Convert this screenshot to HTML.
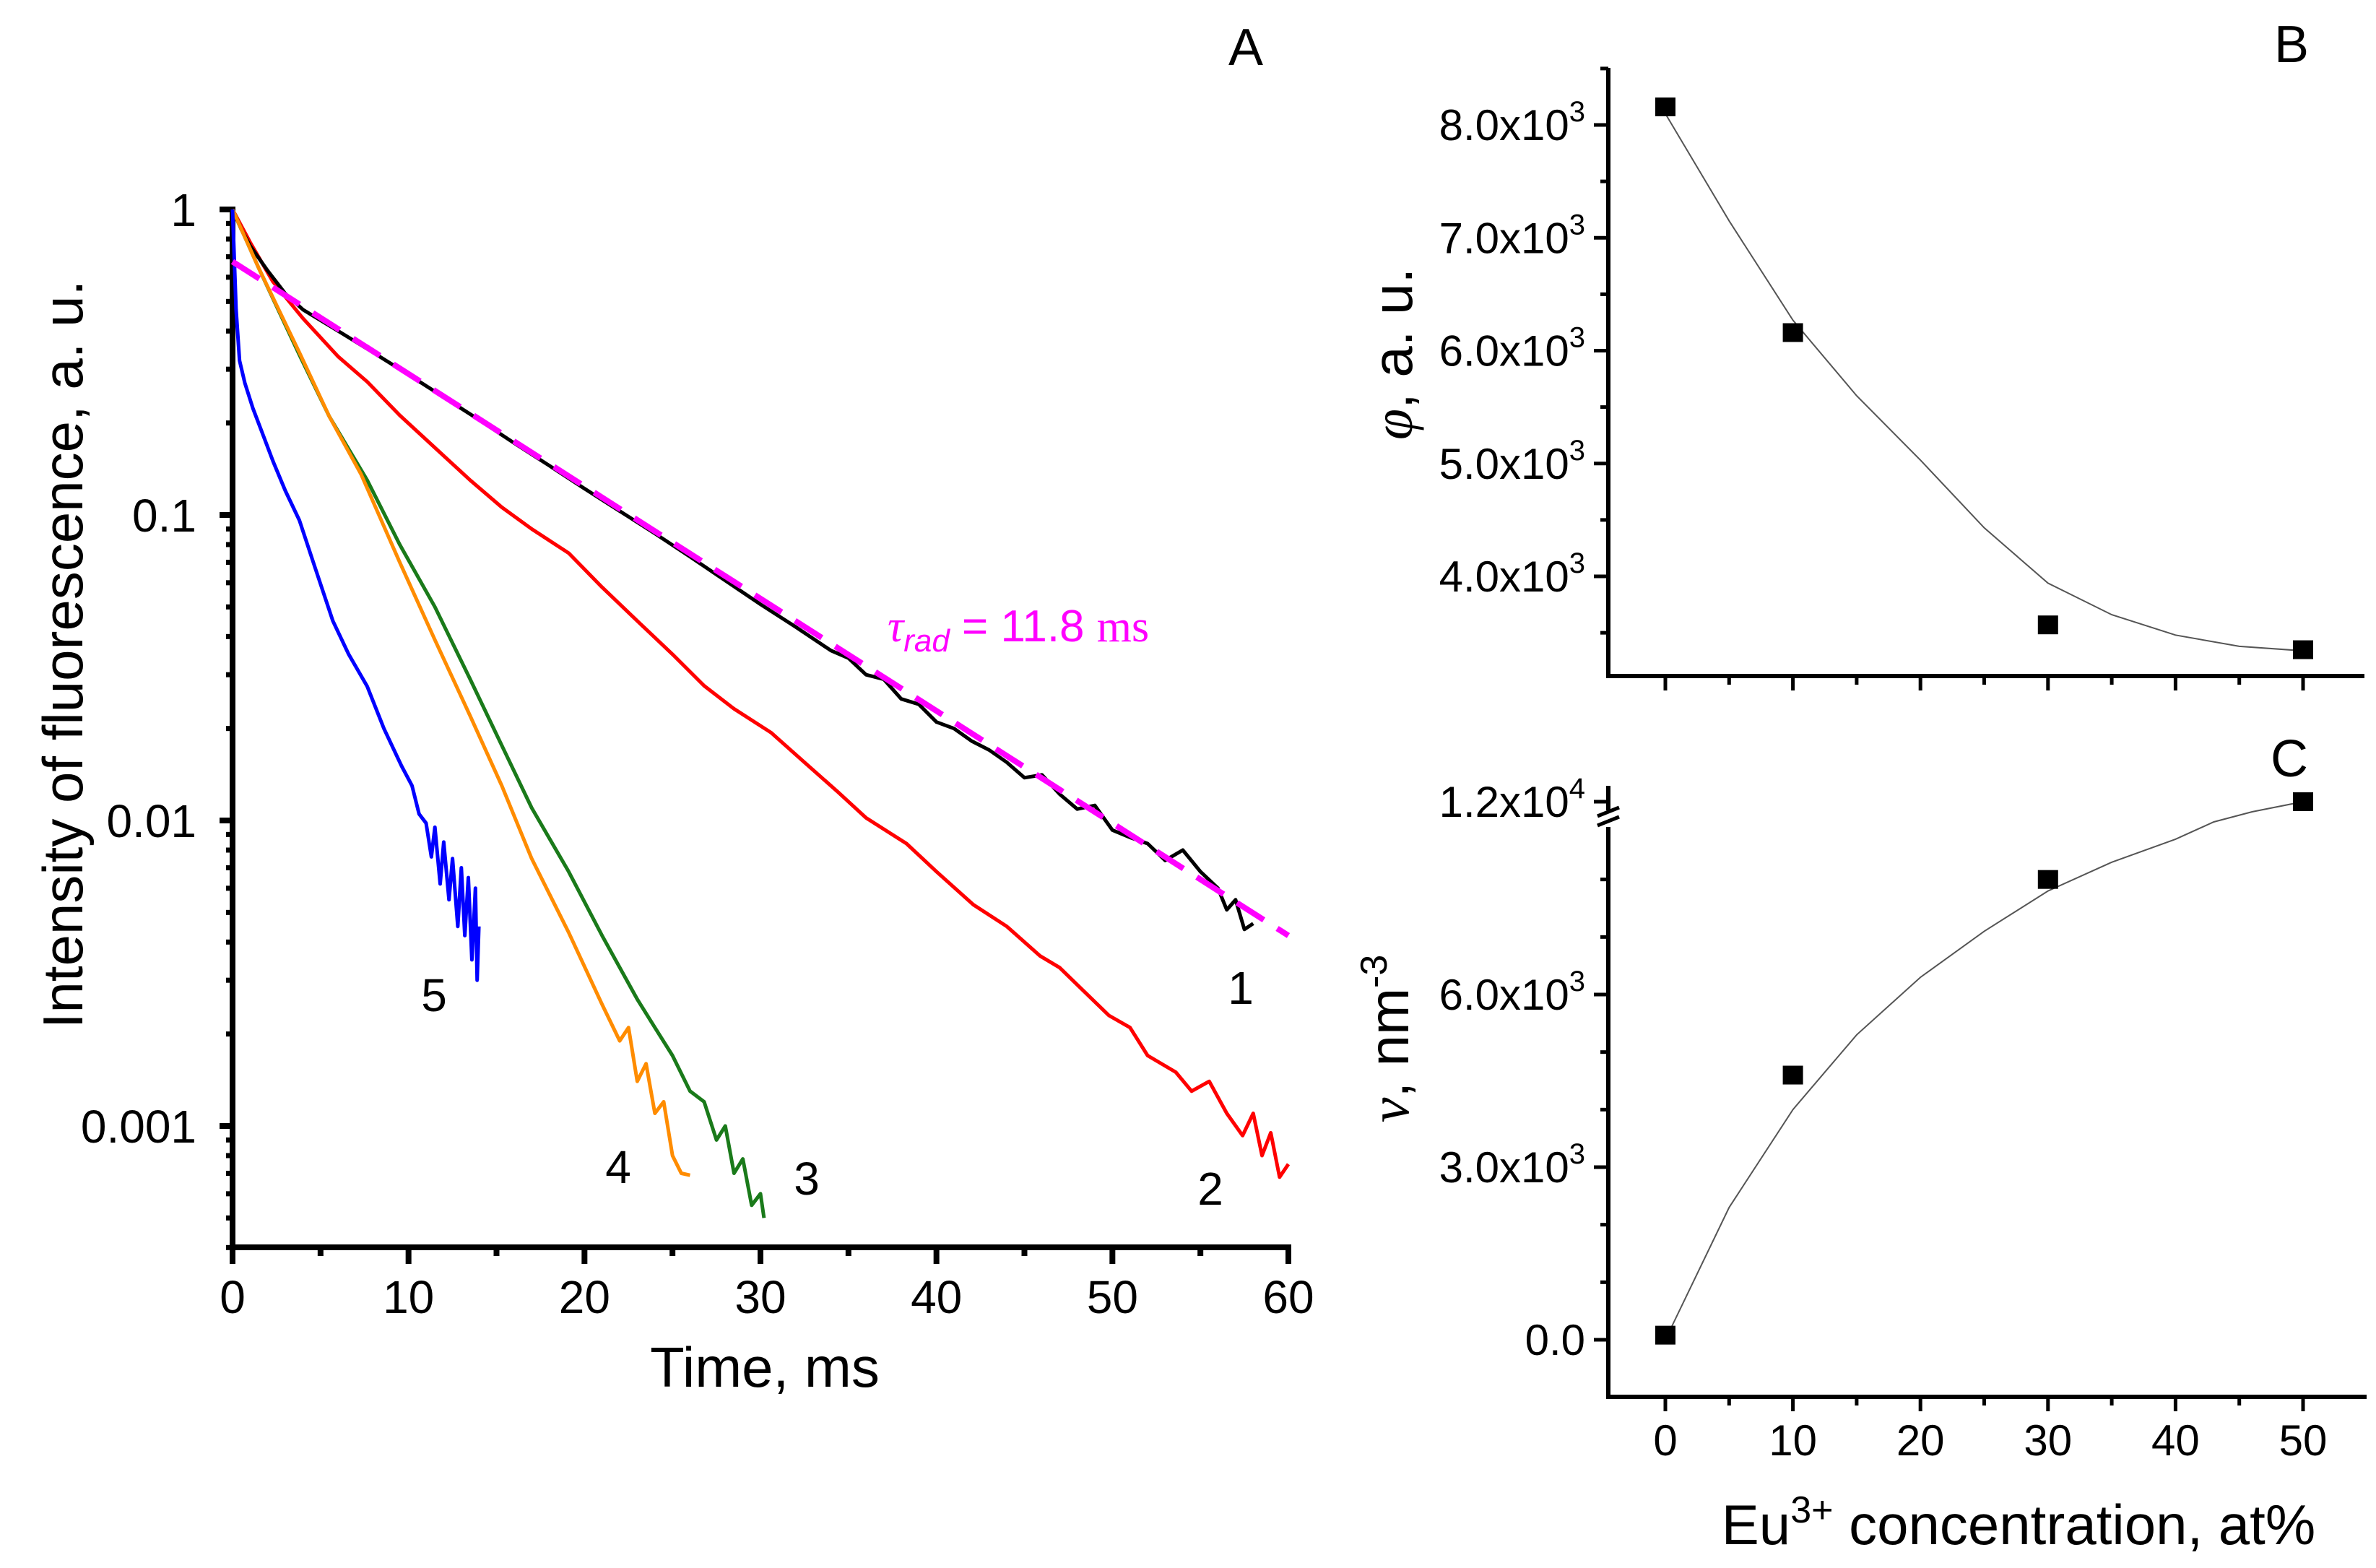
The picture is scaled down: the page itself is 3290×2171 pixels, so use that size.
<!DOCTYPE html>
<html><head><meta charset="utf-8">
<style>
html,body{margin:0;padding:0;background:#fff;}
svg{display:block;font-family:"Liberation Sans",Arial,sans-serif;}
</style></head>
<body>
<svg id="fig" width="3290" height="2171" viewBox="0 0 3290 2171" xmlns="http://www.w3.org/2000/svg">
  <g id="panelA"></g>
  <g id="panelB"></g>
  <g id="panelC"></g>
</svg>
<script>
// ---------- Panel A data ----------
const xTicksA = [0, 10, 20, 30, 40, 50, 60];
const yTicksA = [1, 0.1, 0.01, 0.001];
const yTickLabelsA = ["1", "0.1", "0.01", "0.001"];
const c1T = [0,0.5,1,2,3,4,6,8,10,12,14,16,18,20,22,24,26,28,30,32,34,35,36,37,38,39,40,41,42,43,44,45,46,47,48,49,50,51,52,53,54,55,56,56.5,57,57.5,58];
const c1V = [1,0.86,0.76,0.63,0.53,0.47,0.40,0.34,0.288,0.243,0.205,0.172,0.145,0.122,0.103,0.087,0.073,0.061,0.051,0.043,0.036,0.034,0.030,0.029,0.025,0.024,0.021,0.020,0.0182,0.017,0.0155,0.0138,0.0141,0.0122,0.0109,0.0112,0.0093,0.0088,0.0084,0.0074,0.0080,0.0068,0.0060,0.0051,0.0055,0.0044,0.0046];
const c2T = [0,1,2.3,4,6,7.65,9.5,11.5,13.5,15.3,17,19.1,21,23,25,26.8,28.5,30.6,32.5,34.4,36,38.3,40,42.1,44,45.9,47,48,49.8,51,52,53.6,54.5,55.5,56.5,57.4,58,58.5,59,59.5,60];
const c2V = [1,0.78,0.58,0.44,0.33,0.273,0.212,0.166,0.13,0.106,0.09,0.075,0.058,0.045,0.035,0.0276,0.0232,0.0194,0.0155,0.0124,0.0102,0.0084,0.0068,0.0053,0.0045,0.0036,0.0033,0.0029,0.0023,0.0021,0.0017,0.0015,0.0013,0.0014,0.0011,0.00093,0.0011,0.0008,0.00095,0.00068,0.00075];
const c3T = [0,1.5,3.8,5.5,7.65,9.5,11.5,13.5,15.3,17,19.1,21,23,24,25,26,26.8,27.5,28,28.5,29,29.5,30,30.2];
const c3V = [1,0.64,0.334,0.21,0.13,0.08,0.05,0.029,0.0176,0.011,0.0068,0.0042,0.0026,0.0021,0.0017,0.0013,0.0012,0.0009,0.001,0.0007,0.00078,0.00055,0.0006,0.0005];
const c4T = [0,1.5,3.8,5.5,7.3,9.5,11.5,13.5,15.3,17,19.1,21,22,22.5,23,23.5,24,24.5,25,25.5,26];
const c4V = [1,0.64,0.34,0.21,0.136,0.07,0.039,0.022,0.013,0.0075,0.0043,0.0025,0.0019,0.0021,0.0014,0.0016,0.0011,0.0012,0.0008,0.0007,0.00069];
const c5T = [0,0.2,0.4,0.7,1.15,1.7,2.3,3,3.8,4.7,5.7,6.6,7.65,8.6,9.6,10.2,10.6,11,11.3,11.5,11.8,12,12.3,12.5,12.8,13,13.2,13.4,13.6,13.8,13.9,14];
const c5V = [1,0.47,0.32,0.27,0.224,0.185,0.15,0.12,0.096,0.067,0.045,0.035,0.0275,0.02,0.0151,0.013,0.0105,0.0098,0.0076,0.0095,0.0062,0.0085,0.0055,0.0075,0.0045,0.007,0.0042,0.0065,0.0035,0.006,0.003,0.0045];
const fitT = [0, 60];
const fitV = [0.675, 0.0042];
const curveColors = ["#000000","#ff0000","#1a7a1a","#ff8c00","#0000ff"];
const curveLabels = ["1","2","3","4","5"];

// ---------- Panel B / C data ----------
const concX = [0, 10, 30, 50];
const phiV = [8160, 6160, 3570, 3350];
const phiFitX = [0,5,10,15,20,25,30,35,40,45,50];
const phiFitV = [8100,7150,6270,5600,5030,4430,3940,3660,3480,3380,3340];
const nuV = [80, 4600, 8000, 12000];
const nuFitX = [0,5,10,15,20,25,30,35,40,43,46,50];
const nuFitV = [0,2300,4000,5300,6300,7100,7800,8300,8700,9000,10500,12000];
const xTicksBC = [0,10,20,30,40,50];
const yTicksB = [4000,5000,6000,7000,8000];
const yTickLabelsB = ["4.0","5.0","6.0","7.0","8.0"];
const yTicksC = [0,3000,6000];
const yTickLabelsC = ["0.0","3.0","6.0"];

const NS = "http://www.w3.org/2000/svg";
function mk(parent, tag, attrs, text){
  const e = document.createElementNS(NS, tag);
  for (const k in attrs) e.setAttribute(k, attrs[k]);
  if (text !== undefined) e.textContent = text;
  parent.appendChild(e);
  return e;
}
// ---------- Axis functions ----------
const xA = t => 322 + (t/60)*(1784-322);
const yA = v => 290 - 423*Math.log10(v);
const xB = c => 2306 + c*(3189-2306)/50;
const yB = v => 173 + (8000 - v)*(798-173)/4000;
const yC = v => v <= 9000 ? 1855 - v*(1855-1377)/6000 : 1138 - (v-9000)*28/3000;

// ---------- Panel A ----------
const A = document.getElementById('panelA');
let el;
el = mk(A,'line',{x1:322,y1:286,x2:322,y2:1731,stroke:'#000','stroke-width':8});


el = mk(A,'line',{x1:318,y1:1727,x2:1788,y2:1727,stroke:'#000','stroke-width':8});


for (let t=0;t<=60;t+=5){
  const major = t%10===0;
  el = mk(A,'line',{x1:xA(t),y1:1727,x2:xA(t),y2:major?1750:1739,stroke:'#000','stroke-width':8});
  
  
}
xTicksA.forEach(t=>{
  el = mk(A,'text',{x:xA(t),y:1818,'font-size':64,'text-anchor':'middle'},String(t));
  
  
});
for (let d=0; d>=-4; d--){
  for (let m=1;m<=9;m++){
    const v = m*Math.pow(10,d);
    if (v>1.0001 || v<0.0004) continue;
    el = mk(A,'line',{x1:m===1?304:313,y1:yA(v),x2:322,y2:yA(v),stroke:'#000','stroke-width':m===1?8:7});
    
    
  }
}
yTicksA.forEach((v,i)=>{
  el = mk(A,'text',{x:272,y:yA(v)+23,'font-size':64,'text-anchor':'end'},yTickLabelsA[i]);
  
  
});
const series = [[c1T,c1V],[c2T,c2V],[c3T,c3V],[c4T,c4V],[c5T,c5V]];
const drawOrder = [1,0,2,3,4];
drawOrder.forEach(i=>{
  const [T,V] = series[i];
  const d = T.map((t,k)=>(k?'L':'M')+xA(t).toFixed(1)+','+yA(V[k]).toFixed(1)).join(' ');
  el = mk(A,'path',{d:d,fill:'none',stroke:curveColors[i],'stroke-width':5,'stroke-linejoin':'round'});
  
  
});
el = mk(A,'path',{d:'M'+xA(fitT[0])+','+yA(fitV[0])+' L'+xA(fitT[1])+','+yA(fitV[1]),fill:'none',stroke:'#ff00ff','stroke-width':8,'stroke-dasharray':'44 22'});


const labPos = [[1718,1390],[1676,1668],[1117,1654],[856,1638],[601,1400]];
labPos.forEach((p,i)=>{
  el = mk(A,'text',{x:p[0],y:p[1],'font-size':64,'text-anchor':'middle'},curveLabels[i]);
  
  
});
el = mk(A,'text',{x:1229,y:888,'font-size':62,fill:'#ff00ff'});


el.innerHTML = '<tspan font-family="Liberation Serif, serif" font-style="italic">τ</tspan><tspan font-style="italic" font-size="44" dy="14">rad</tspan><tspan dy="-14"> = 11.8 </tspan><tspan font-family="Liberation Serif, serif">ms</tspan>';
el = mk(A,'text',{x:1059,y:1920,'font-size':78,'text-anchor':'middle'},'Time, ms');


el = mk(A,'text',{x:0,y:0,'font-size':78,'text-anchor':'middle',transform:'translate(114,906) rotate(-90)'},'Intensity of fluorescence, a. u.');


el = mk(A,'text',{x:1725,y:90,'font-size':72,'text-anchor':'middle'},'A');



// ---------- Panel B ----------
const B = document.getElementById('panelB');
el = mk(B,'line',{x1:2227,y1:94,x2:2227,y2:939,stroke:'#000','stroke-width':6});


el = mk(B,'line',{x1:2224,y1:936,x2:3274,y2:936,stroke:'#000','stroke-width':6});


for (let c=0;c<=50;c+=5){
  el = mk(B,'line',{x1:xB(c),y1:936,x2:xB(c),y2:c%10===0?956:948,stroke:'#000','stroke-width':5});
  
  
}
for (let v=3500; v<=8500; v+=500){
  const major = v%1000===0;
  el = mk(B,'line',{x1:major?2207:2216,y1:yB(v),x2:2227,y2:yB(v),stroke:'#000','stroke-width':5});
  
  
}
yTicksB.forEach((v,i)=>{
  el = mk(B,'text',{x:2195,y:yB(v)+21,'font-size':60,'text-anchor':'end'});
  
  
  el.innerHTML = yTickLabelsB[i]+'x10<tspan font-size="40" dy="-26">3</tspan>';
});
el = mk(B,'path',{d:phiFitX.map((c,k)=>(k?'L':'M')+xB(c).toFixed(1)+','+yB(phiFitV[k]).toFixed(1)).join(' '),fill:'none',stroke:'#555','stroke-width':2});


concX.forEach((c,i)=>{
  el = mk(B,'rect',{x:xB(c)-14,y:yB(phiV[i])-13,width:28,height:26,fill:'#000'});
  
  
});
el = mk(B,'text',{x:0,y:0,'font-size':78,'text-anchor':'middle',transform:'translate(1955,490) rotate(-90)'});


el.innerHTML = '<tspan font-family="Liberation Serif, serif" font-style="italic">φ</tspan>, a. u.';
el = mk(B,'text',{x:3173,y:86,'font-size':72,'text-anchor':'middle'},'B');



// ---------- Panel C ----------
const C = document.getElementById('panelC');
el = mk(C,'line',{x1:2227,y1:1145,x2:2227,y2:1937,stroke:'#000','stroke-width':6});


el = mk(C,'line',{x1:2227,y1:1088,x2:2227,y2:1122,stroke:'#000','stroke-width':6});


el = mk(C,'path',{d:'M2212,1130 L2242,1118 M2212,1143 L2242,1131',stroke:'#000','stroke-width':5,fill:'none'});


el = mk(C,'line',{x1:2224,y1:1934,x2:3277,y2:1934,stroke:'#000','stroke-width':6});


for (let c=0;c<=50;c+=5){
  el = mk(C,'line',{x1:xB(c),y1:1934,x2:xB(c),y2:c%10===0?1954:1946,stroke:'#000','stroke-width':5});
  
  
}
xTicksBC.forEach(c=>{
  el = mk(C,'text',{x:xB(c),y:2015,'font-size':60,'text-anchor':'middle'},String(c));
  
  
});
for (let v=0; v<=8000; v+=1000){
  const major = v%3000===0;
  el = mk(C,'line',{x1:major?2207:2216,y1:yC(v),x2:2227,y2:yC(v),stroke:'#000','stroke-width':5});
  
  
}
el = mk(C,'line',{x1:2207,y1:yC(12000),x2:2227,y2:yC(12000),stroke:'#000','stroke-width':5});


yTicksC.forEach((v,i)=>{
  el = mk(C,'text',{x:2195,y:yC(v)+21,'font-size':60,'text-anchor':'end'});
  
  
  if (v===0) el.textContent = yTickLabelsC[i];
  else el.innerHTML = yTickLabelsC[i]+'x10<tspan font-size="40" dy="-26">3</tspan>';
});
el = mk(C,'text',{x:2195,y:yC(12000)+21,'font-size':60,'text-anchor':'end'});


el.innerHTML = '1.2x10<tspan font-size="40" dy="-26">4</tspan>';
el = mk(C,'path',{d:nuFitX.map((c,k)=>(k?'L':'M')+xB(c).toFixed(1)+','+yC(nuFitV[k]).toFixed(1)).join(' '),fill:'none',stroke:'#555','stroke-width':2});


concX.forEach((c,i)=>{
  el = mk(C,'rect',{x:xB(c)-14,y:yC(nuV[i])-13,width:28,height:26,fill:'#000'});
  
  
});
el = mk(C,'text',{x:0,y:0,'font-size':78,'text-anchor':'middle',transform:'translate(1950,1438) rotate(-90)'});


el.innerHTML = '<tspan font-family="Liberation Serif, serif" font-style="italic">ν</tspan>, nm<tspan font-size="52" dy="-30">-3</tspan>';
el = mk(C,'text',{x:3170,y:1075,'font-size':72,'text-anchor':'middle'},'C');


el = mk(C,'text',{x:2795,y:2138,'font-size':78,'text-anchor':'middle'});


el.innerHTML = 'Eu<tspan font-size="52" dy="-30">3+</tspan><tspan dy="30"> concentration, at%</tspan>';
</script>
</body></html>
